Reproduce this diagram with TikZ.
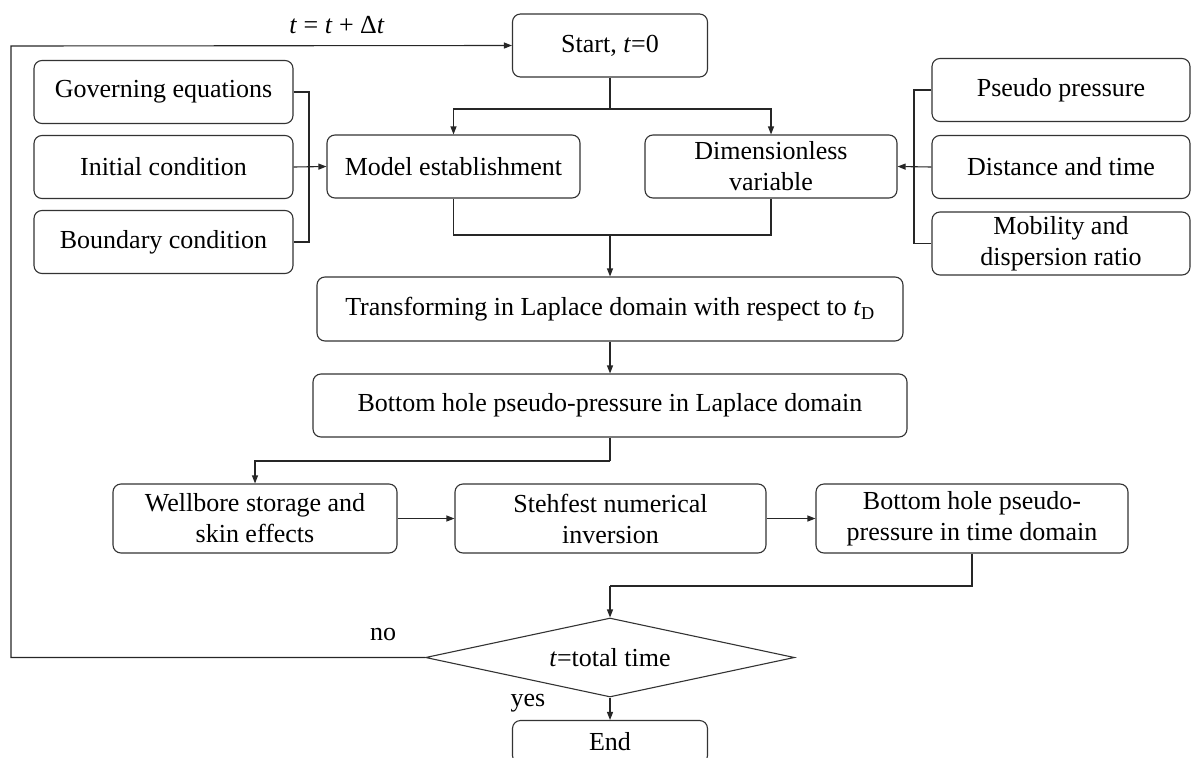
\documentclass[tikz,border=0pt]{standalone}
\usepackage{fontspec}
\setmainfont{Liberation Serif}
\usetikzlibrary{arrows.meta,shapes.geometric}

\begin{document}
\begin{tikzpicture}[x=1pt,y=-1pt,
    box/.style={draw=black!80, line width=1.1pt, rounded corners=8pt, align=center,
        inner sep=0pt, minimum height=63pt, font=\fontsize{26}{31}\selectfont},
    test/.style={draw=black!80, line width=1.1pt, diamond, aspect=4.7, inner sep=0pt,
        minimum width=369pt, minimum height=79pt, font=\fontsize{26}{31}\selectfont},
    lbl/.style={font=\fontsize{26}{31}\selectfont},
    link/.style={line width=1.1pt, draw=black!85},
    >={Triangle[length=8pt,width=6pt]}]
    \clip (0,0) rectangle (1192,758);
    \path (0,0) node[box, minimum width=195pt](start) at (610,45.5){Start, \textit{t}=0}
        node[box, minimum width=259pt](govern) at (163.5,92){Governing equations}
        node[box, minimum width=259pt](initial) at (163.5,167){Initial condition}
        node[box, minimum width=259pt](boundary) at (163.5,242){Boundary condition}
        node[box, minimum width=253pt](model) at (453.5,166.5){Model establishment}
        node[box, minimum width=252pt](dimless) at (771,166.5){Dimensionless\\variable}
        node[box, minimum width=258pt](pseudo) at (1061,90){Pseudo pressure}
        node[box, minimum width=258pt](distance) at (1061,167){Distance and time}
        node[box, minimum width=258pt](mobility) at (1061,243.5){Mobility and\\dispersion ratio};
    \path (610,309) node[box, minimum width=586pt, minimum height=64pt](laplace){Transforming in Laplace domain with respect to \textit{t}\textsubscript{D}}
        (610,405.5) node[box, minimum width=594pt](bhlaplace){Bottom hole pseudo-pressure in Laplace domain}
        (255,518.5) node[box, minimum width=284pt, minimum height=69pt](wellbore){Wellbore storage and\\skin effects}
        (610.5,518.5) node[box, minimum width=311pt, minimum height=69pt](stehfest){Stehfest numerical\\inversion}
        (972,518.5) node[box, minimum width=312pt, minimum height=69pt](bhtime){Bottom hole pseudo-\\pressure in time domain}
        (610,657.5) node[test](total){\textit{t}=total time}
        (610,742) node[box, minimum width=195pt, minimum height=43pt](finish){End};
    \coordinate (split) at (610,109);
    \coordinate (merge) at (610,235);
    \coordinate (lbrace) at (309,167);
    \coordinate (rbrace) at (914,167);
    \coordinate (turn) at (610,461);
    \coordinate (back) at (610,586);
    \coordinate (loop) at (11,46);
    \draw[link] (start) -- (split);
    \draw[link, ->] (split) -| (model.north);
    \draw[link, ->] (split) -| (dimless.north);
    \draw[link] (govern.east) -| (lbrace) |- (boundary.east);
    \draw[link, ->] (initial.east) -- (model.west);
    \draw[link] (pseudo.west) -| (rbrace) |- (mobility.west);
    \draw[link, ->] (distance.west) -- (dimless.east);
    \draw[link] (model.south) |- (merge) (dimless.south) |- (merge);
    \draw[link, ->] (merge) -- (laplace.north);
    \draw[link, ->] (laplace) -- (bhlaplace);
    \draw[link] (bhlaplace.south) -- (turn);
    \draw[link, ->] (turn) -| (wellbore.north);
    \draw[link, ->] (wellbore) -- (stehfest);
    \draw[link, ->] (stehfest) -- (bhtime);
    \draw[link] (bhtime.south) |- (back);
    \draw[link, ->] (back) -- (total.north);
    \draw[link, ->] (total.south) -- (finish.north);
    \draw[link, ->] (total.west) -| (loop) -- (start.west);
    \node[lbl](step) at (337,25){\textit{t} = \textit{t} + Δ\textit{t}};
    \node[lbl](nolbl) at (383,634){no};
    \node[lbl](yeslbl) at (528,703){yes};
\end{tikzpicture}
\end{document}
